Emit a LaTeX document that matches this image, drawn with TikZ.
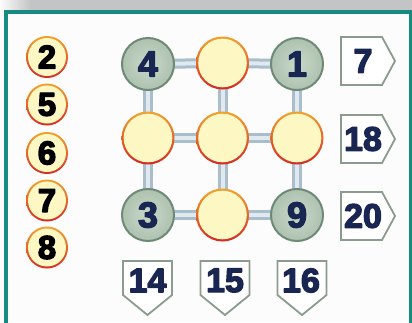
\documentclass[tikz,border=0pt]{standalone}
\usepackage{fontspec}
\newfontfamily\numfont{Liberation Sans}
\newcommand{\heavyon}{\special{pdf:code 2 Tr 1.3 w 1 j}}
\newcommand{\heavyoff}{\special{pdf:code 0 Tr}}
\usetikzlibrary{backgrounds}
\pgfdeclarelayer{back}
\pgfdeclarelayer{bars}
\pgfsetlayers{back,bars,main}
\definecolor{frameteal}{HTML}{178A82}
\definecolor{navy}{HTML}{1A2652}
\definecolor{gfillin}{HTML}{C8D8C8}
\definecolor{gfillout}{HTML}{AEC2B0}
\definecolor{gborder}{HTML}{6E8A77}
\definecolor{cream}{HTML}{FDF7C4}
\definecolor{yorange}{HTML}{F2A32C}
\definecolor{yred}{HTML}{D42A22}
\definecolor{barout}{HTML}{A9BDCB}
\definecolor{barin}{HTML}{E0E9EF}
\definecolor{boxline}{HTML}{8A9C8E}
\definecolor{bandgray}{HTML}{C4C4C6}
\definecolor{paper}{HTML}{FBFCFB}
\begin{document}
\begin{tikzpicture}[x=1pt,y=-1pt,
  heavy/.style={execute at begin node={\heavyon}, execute at end node={\heavyoff}},
  numfnt/.style={font=\numfont\bfseries\fontsize{34}{34}\selectfont, heavy},
  gnode/.style={circle, minimum size=52, inner sep=0, draw=gborder, line width=2,
    inner color=gfillin, outer color=gfillout,
    font=\numfont\bfseries\fontsize{36}{36}\selectfont, heavy, text=navy},
  ynode/.style={circle, minimum size=53, inner sep=0, top color=yorange, bottom color=yred,
    path picture={\fill[cream] (path picture bounding box.center) circle (24.3);}},
  snode/.style={circle, minimum size=42, inner sep=0, top color=yorange, bottom color=yred,
    path picture={\fill[cream] (path picture bounding box.center) circle (19);},
    font=\numfont\bfseries\fontsize{33}{33}\selectfont, heavy, text=black},
  barouter/.style={draw=barout, line width=10},
  barinner/.style={draw=barin, line width=4},
  boxl/.style={draw=boxline, line width=1.8, fill=white, line join=miter},
  btxt/.style={numfnt, text=navy, inner sep=0},
  rbox/.pic={\draw[boxl] (0,0) -- (41,0) -- (54,24) -- (41,48) -- (0,48) -- cycle;},
  dbox/.pic={\draw[boxl] (0,0) -- (49,0) -- (49,34) -- (24.5,54) -- (0,34) -- cycle;}
]
\useasboundingbox (0,0) rectangle (412,322);
\begin{pgfonlayer}{back}
  \fill[paper] (0,0) rectangle (412,322);
  \fill[bandgray] (30,0) rectangle (412,10.5);
  \shade[left color=white!95!bandgray, right color=bandgray] (0,0) rectangle (30.5,10.5);
  \draw[frameteal, line width=4] (6,330) -- (6,11.5) -- (410.5,11.5) -- (410.5,330);
\end{pgfonlayer}

% left column
\node[snode] (s1) at (47,57) {2};
\node[snode] (s2) at (47,104.5) {5};
\node[snode] (s3) at (47,153) {6};
\node[snode] (s4) at (47,200.5) {7};
\node[snode] (s5) at (47,247.5) {8};

% grid
\node[gnode] (a1) at (148,64) {4};
\node[ynode] (a2) at (222.5,63) {};
\node[gnode] (a3) at (297,64) {1};
\node[ynode] (b1) at (148,138) {};
\node[ynode] (b2) at (222.5,138) {};
\node[ynode] (b3) at (297,138) {};
\node[gnode] (c1) at (148,215) {3};
\node[ynode] (c2) at (222.5,215) {};
\node[gnode] (c3) at (297,215) {9};

\begin{pgfonlayer}{bars}
  \foreach \p/\q in {a1/a2,a2/a3,b1/b2,b2/b3,c1/c2,c2/c3,a1/b1,b1/c1,a2/b2,b2/c2,a3/b3,b3/c3}
    {\draw[barouter] (\p.center) -- (\q.center);}
  \foreach \p/\q in {a1/a2,a2/a3,b1/b2,b2/b3,c1/c2,c2/c3,a1/b1,b1/c1,a2/b2,b2/c2,a3/b3,b3/c3}
    {\draw[barinner] (\p.center) -- (\q.center);}
\end{pgfonlayer}

% right sums
\pic at (341,37) {rbox};
\node[btxt] (r1) at (363,61) {7};
\pic at (341,115) {rbox};
\node[btxt] (r2) at (363,139) {18};
\pic at (341,192) {rbox};
\node[btxt] (r3) at (363,216) {20};

% bottom sums
\pic at (123,261) {dbox};
\node[btxt] (d1) at (147.5,280.5) {14};
\pic at (200.5,261) {dbox};
\node[btxt] (d2) at (225,280.5) {15};
\pic at (277.5,261) {dbox};
\node[btxt] (d3) at (301,280.5) {16};
\end{tikzpicture}
\end{document}
